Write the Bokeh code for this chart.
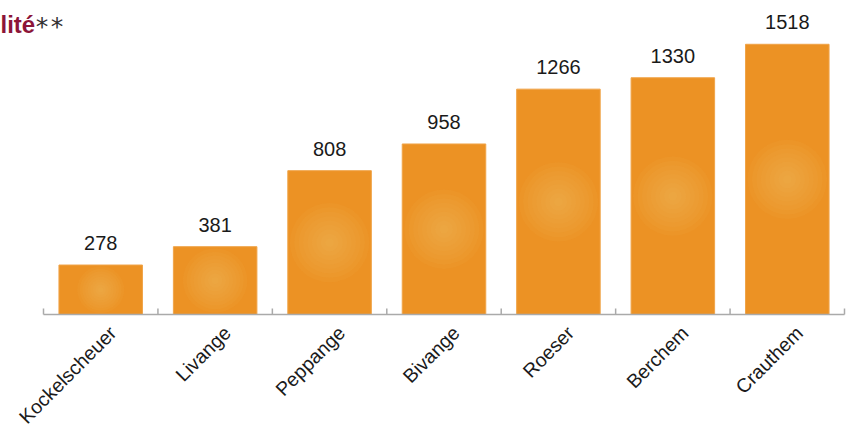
import numpy as np
from bokeh.plotting import figure
from bokeh.models import Range1d, Label, ColumnDataSource
from bokeh.core.properties import value
from bokeh.embed import file_html
from bokeh.resources import INLINE

# ---- data ----
localites = ["Kockelscheuer", "Livange", "Peppange", "Bivange", "Roeser", "Berchem", "Crauthem"]
habitants = [278, 381, 808, 958, 1266, 1330, 1518]
title_part = "lité"
title_mark = "**"

n = len(localites)
centers = [i + 0.5 for i in range(n)]
bounds = list(range(n + 1))
bar_w = 0.73

W, H = 848, 433
base_px = 314                          # screen row of the category axis
px_per_unit = 0.178                    # vertical scale (pixels per inhabitant)
ymax = base_px / px_per_unit
ymin = -(H - base_px) / px_per_unit
cat_px = 801 / n                       # pixel width of one category
x_start = -43 / cat_px                 # blank strip at the left of the axis
x_end = n + 4 / cat_px

p = figure(width=W, height=H, output_backend="svg", toolbar_location=None,
           x_range=Range1d(x_start, x_end), y_range=Range1d(ymin, ymax),
           min_border=0, x_axis_type=None, y_axis_type=None)
p.outline_line_color = None
p.grid.visible = False
p.background_fill_color = "white"

src = ColumnDataSource(dict(x=centers, top=habitants, lab=[str(v) for v in habitants]))
p.vbar(x="x", top="top", bottom=0, width=bar_w, source=src,
       fill_color="#EC9224", line_color="#F0A449", line_width=1)

# soft radial glow in the middle of each bar
bar_px = bar_w * cat_px
glow_x, glow_y, glow_s = [], [], []
for c, v in zip(centers, habitants):
    d = min(bar_px, v * px_per_unit) * 0.95
    glow_x.append(c)
    glow_y.append(v / 2)
    glow_s.append(d)
layers = 9
for k in range(1, layers + 1):
    sizes = [s * k / layers for s in glow_s]
    p.ellipse(x=glow_x, y=glow_y, width=sizes, height=sizes,
              width_units="screen", height_units="screen",
              fill_color="#F6BC6C", fill_alpha=0.065, line_color=None)

# value labels
p.text(x="x", y="top", text="lab", source=src, text_align="center",
       text_baseline="bottom", y_offset=-15, text_font=value("Liberation Sans"),
       text_font_size="20px", text_color="#1a1a1a")

# category axis: baseline, boundary ticks, rotated labels
axis_col = "#aaaaaa"
p.segment(x0=[bounds[0]], y0=[0], x1=[bounds[-1]], y1=[0],
          line_color=axis_col, line_width=1.5)
p.ray(x=bounds, y=[0] * len(bounds), length=6, length_units="screen",
      angle=np.pi / 2, line_color=axis_col, line_width=1.5)
p.text(x=centers, y=[0] * n, text=localites, angle=np.pi / 4,
       text_align="right", text_baseline="middle", x_offset=12, y_offset=15,
       text_font=value("Liberation Sans"), text_font_size="19.5px",
       text_color="#1a1a1a")

p.add_layout(Label(x=x_start, y=ymax, y_offset=-24, text=title_part,
                   text_font="Liberation Sans", text_font_style="bold",
                   text_font_size="24px", text_color="#8C1539",
                   text_baseline="alphabetic"))
p.add_layout(Label(x=x_start, y=ymax, x_offset=34, y_offset=-26, text=title_mark,
                   text_font="DejaVu Sans Mono", text_font_size="25px",
                   text_color="#333333", text_baseline="alphabetic"))

open("out.html", "w").write(file_html(p, INLINE))
